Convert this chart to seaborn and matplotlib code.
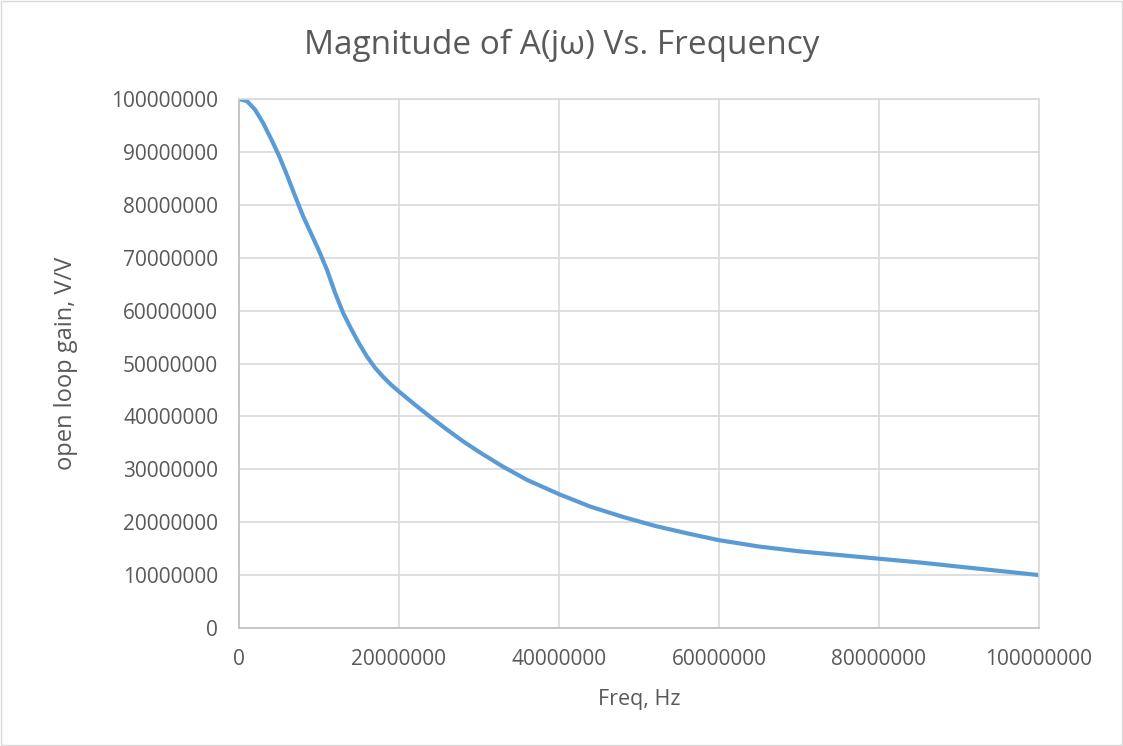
import numpy as np
import pandas as pd
import matplotlib
matplotlib.use('Agg')
import matplotlib.pyplot as plt
import seaborn as sns
from matplotlib.ticker import FuncFormatter, MultipleLocator

# values (frequency in Hz, gain in V/V)
freq = [0, 1e6, 2e6, 3e6, 4e6, 5e6, 6e6, 7e6, 8e6, 9e6, 10e6, 11e6, 12e6,
        13e6, 14e6, 15e6, 16e6, 17e6, 18e6, 19e6, 20e6, 22e6, 24e6, 26e6,
        28e6, 30e6, 33e6, 36e6, 40e6, 44e6, 48e6, 52e6, 56e6, 60e6, 65e6,
        70e6, 75e6, 80e6, 85e6, 90e6, 95e6, 100e6]
gain = [100e6, 99.6e6, 98.0e6, 95.5e6, 92.5e6, 89.3e6, 85.6e6, 81.7e6, 77.9e6,
        74.6e6, 71.3e6, 67.7e6, 63.4e6, 59.6e6, 56.6e6, 53.8e6, 51.3e6, 49.2e6,
        47.5e6, 46.0e6, 44.7e6, 42.2e6, 39.8e6, 37.5e6, 35.3e6, 33.3e6, 30.5e6,
        28.0e6, 25.3e6, 22.9e6, 21.0e6, 19.3e6, 17.9e6, 16.6e6, 15.4e6, 14.5e6,
        13.8e6, 13.1e6, 12.4e6, 11.6e6, 10.8e6, 10.0e6]

df = pd.DataFrame({'freq': freq, 'gain': gain})

sns.set_style('white')
plt.rcParams['font.family'] = ['Open Sans', 'DejaVu Sans']

fig = plt.figure(figsize=(11.23, 7.46), dpi=100)
ax = fig.add_axes([239 / 1123, 1 - 628 / 746, 800 / 1123, 529 / 746])

sns.lineplot(data=df, x='freq', y='gain', ax=ax, color='#5B9BD5', linewidth=3,
             solid_joinstyle='round', solid_capstyle='round')

ax.set_xlim(0, 1e8)
ax.set_ylim(0, 1e8)
ax.xaxis.set_major_locator(MultipleLocator(2e7))
ax.yaxis.set_major_locator(MultipleLocator(1e7))
fmt = FuncFormatter(lambda v, _: f'{int(round(v))}')
ax.xaxis.set_major_formatter(fmt)
ax.yaxis.set_major_formatter(fmt)

ax.grid(True, color='#d9d9d9', linewidth=1.2)
ax.set_axisbelow(True)
for s in ['top', 'right']:
    ax.spines[s].set_color('#d9d9d9')
    ax.spines[s].set_linewidth(1.2)
for s in ['left', 'bottom']:
    ax.spines[s].set_color('#bfbfbf')
    ax.spines[s].set_linewidth(1.2)

ax.tick_params(axis='both', length=0, labelsize=15, colors='#595959')
ax.tick_params(axis='y', pad=15)
ax.tick_params(axis='x', pad=15)

ax.set_xlabel('Freq, Hz', fontsize=15.5, color='#595959', labelpad=14)
ax.set_ylabel('open loop gain, V/V', fontsize=17, color='#595959', labelpad=24)

fig.text(0.5, 1 - 45 / 746, 'Magnitude of A(jω) Vs. Frequency', ha='center', va='center',
         fontsize=24, color='#595959')

# light frame around the chart area
fig.patches.append(plt.Rectangle((0.0005, 0.0007), 0.999, 0.9986, transform=fig.transFigure,
                                 fill=False, edgecolor='#d9d9d9', linewidth=1))

plt.savefig('out.png', dpi=100)
